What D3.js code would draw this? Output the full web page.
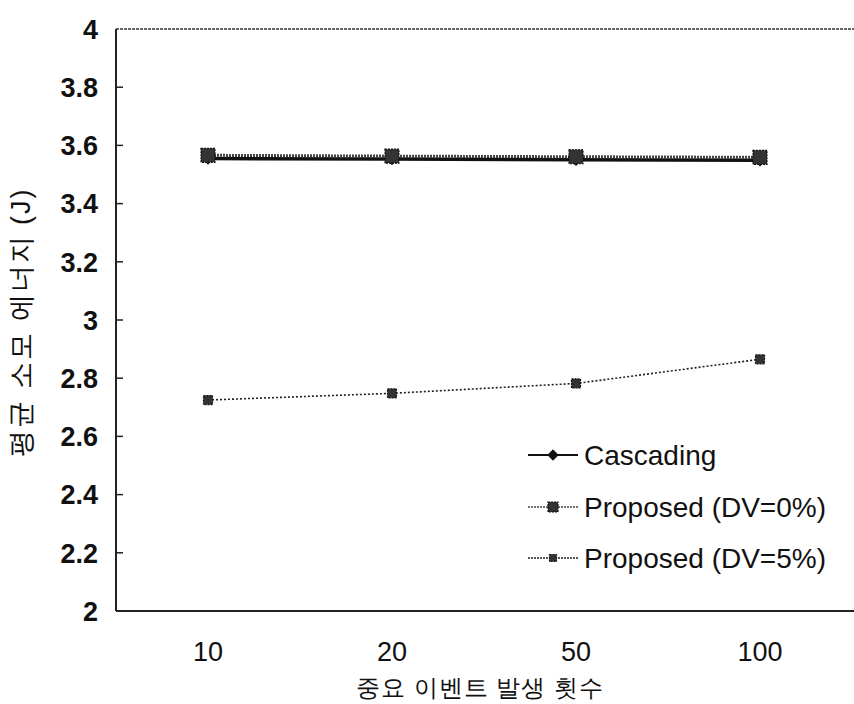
<!DOCTYPE html>
<html>
<head>
<meta charset="utf-8">
<script src="https://cdn.jsdelivr.net/npm/d3@7"></script>
<style>
  body { margin: 0; background: #fff; }
  text { font-family: "Liberation Sans", Arial, sans-serif; fill: #111; }
</style>
</head>
<body>
<div id="vis"></div>
<script>
const categories = ['10', '20', '50', '100'];
const cascading = [3.555, 3.553, 3.551, 3.549];
const proposed0 = [3.566, 3.563, 3.561, 3.559];
const proposed5 = [2.725, 2.748, 2.782, 2.865];
const yTicks = [2, 2.2, 2.4, 2.6, 2.8, 3, 3.2, 3.4, 3.6, 3.8, 4];

const width = 854, height = 704;
const margin = {top: 29, right: 2, bottom: 93, left: 116};

const svg = d3.select('#vis').append('svg')
  .attr('width', width)
  .attr('height', height);

const x = d3.scalePoint().domain(categories)
  .range([margin.left, width - margin.right]).padding(0.5);
const y = d3.scaleLinear().domain([2, 4]).range([height - margin.bottom, margin.top]);

// frame: left, top, bottom
const g = svg.append('g');
g.append('line').attr('x1', margin.left).attr('x2', margin.left)
  .attr('y1', y(4)).attr('y2', y(2)).attr('stroke', '#222').attr('stroke-width', 2);
g.append('line').attr('x1', margin.left).attr('x2', width)
  .attr('y1', y(4)).attr('y2', y(4)).attr('stroke', '#333').attr('stroke-width', 1.5)
  .attr('stroke-dasharray', '3 1');
g.append('line').attr('x1', margin.left).attr('x2', width)
  .attr('y1', y(2)).attr('y2', y(2)).attr('stroke', '#222').attr('stroke-width', 1.8);

// y ticks (inward) and labels
g.selectAll('line.yt').data(yTicks.slice(1, -1)).enter().append('line')
  .attr('class', 'yt')
  .attr('x1', margin.left).attr('x2', margin.left + 7)
  .attr('y1', d => y(d)).attr('y2', d => y(d))
  .attr('stroke', '#222').attr('stroke-width', 1.5);
g.selectAll('text.yl').data(yTicks).enter().append('text')
  .attr('class', 'yl')
  .attr('x', 98).attr('y', d => y(d))
  .attr('dy', '0.36em')
  .attr('text-anchor', 'end')
  .attr('font-size', 27).attr('font-weight', 'bold')
  .text(d => d3.format('~g')(d));

// x labels
g.selectAll('text.xl').data(categories).enter().append('text')
  .attr('class', 'xl')
  .attr('x', d => x(d)).attr('y', 661)
  .attr('text-anchor', 'middle')
  .attr('font-size', 27)
  .text(d => d);

svg.append('text').attr('x', 480).attr('y', 696)
  .attr('text-anchor', 'middle').attr('font-size', 24)
  .attr('font-family', '"Noto Sans CJK KR", sans-serif')
  .attr('letter-spacing', 1)
  .text('중요 이벤트 발생 횟수');

svg.append('text')
  .attr('transform', 'translate(30,' + 322 + ') rotate(-90)')
  .attr('text-anchor', 'middle').attr('font-size', 27)
  .attr('letter-spacing', 2)
  .attr('font-family', '"Noto Sans CJK KR", sans-serif')
  .text('평균 소모 에너지 (J)');

const line = d3.line().x((d, i) => x(categories[i])).y(d => y(d));

// series
const series = [
  {name: 'Cascading', data: cascading, stroke: '#111', width: 3.5, dash: null, marker: 'diamond', size: 10},
  {name: 'Proposed (DV=0%)', data: proposed0, stroke: '#444', width: 3, dash: '2 1', marker: 'blob', size: 14},
  {name: 'Proposed (DV=5%)', data: proposed5, stroke: '#222', width: 1.6, dash: '2 2', marker: 'blob', size: 9}
];

function drawMarker(sel, s, cx, cy) {
  if (s.marker === 'diamond') {
    sel.append('path')
      .attr('d', d3.symbol().type(d3.symbolDiamond2).size(s.size * s.size)())
      .attr('transform', 'translate(' + cx + ',' + cy + ')')
      .attr('fill', '#111');
  } else {
    const h = s.size / 2;
    sel.append('rect')
      .attr('x', cx - h).attr('y', cy - h)
      .attr('width', s.size).attr('height', s.size)
      .attr('fill', '#333').attr('stroke', '#111').attr('stroke-width', 1.2)
      .attr('stroke-dasharray', '2 1');
  }
}

series.forEach(s => {
  svg.append('path')
    .attr('d', line(s.data))
    .attr('fill', 'none')
    .attr('stroke', s.stroke)
    .attr('stroke-width', s.width)
    .attr('stroke-dasharray', s.dash);
  s.data.forEach((d, i) => drawMarker(svg, s, x(categories[i]), y(d)));
});

// legend
const legendY = [455, 507, 558];
series.forEach((s, i) => {
  const ly = legendY[i];
  const lg = svg.append('g');
  lg.append('line').attr('x1', 528).attr('x2', 578)
    .attr('y1', ly).attr('y2', ly)
    .attr('stroke', s.stroke).attr('stroke-width', i === 0 ? 2 : 1.4)
    .attr('stroke-dasharray', i === 0 ? null : '2 1');
  drawMarker(lg, {marker: s.marker, size: i === 0 ? 9 : (i === 1 ? 10 : 7)}, 553, ly);
  lg.append('text').attr('x', 584).attr('y', ly).attr('dy', '0.36em')
    .attr('font-size', 28).text(s.name);
});
</script>
</body>
</html>
